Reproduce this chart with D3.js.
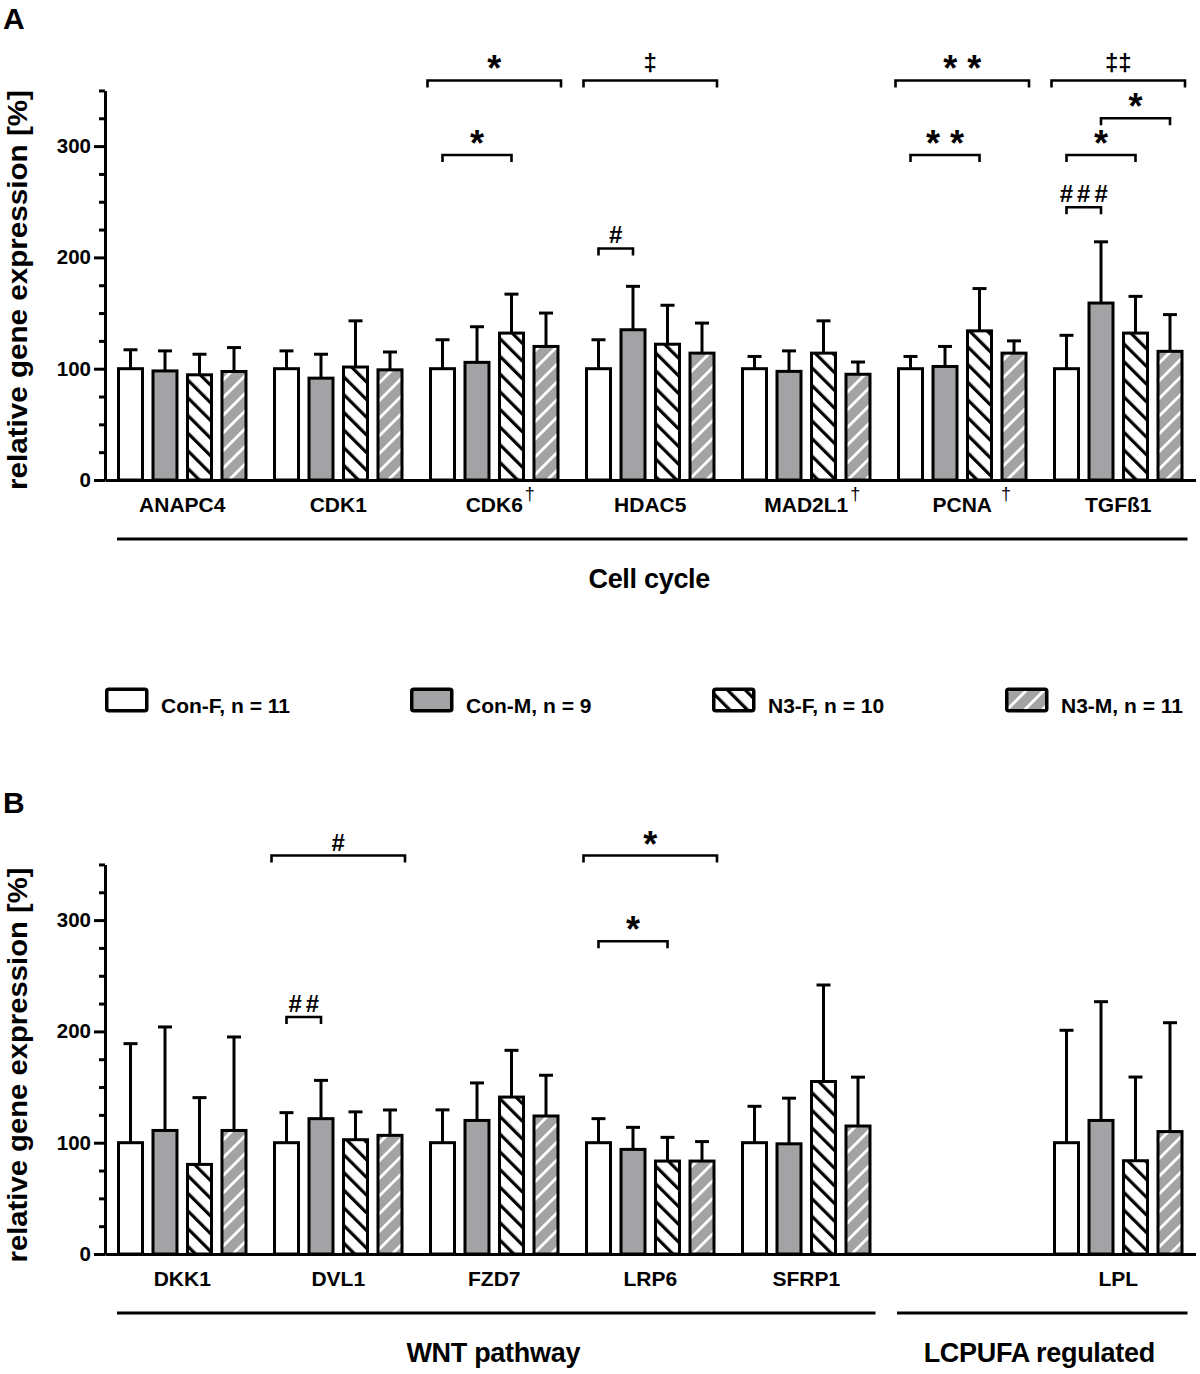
<!DOCTYPE html>
<html>
<head>
<meta charset="utf-8">
<script src="https://cdn.jsdelivr.net/npm/d3@7"></script>
<style>
  html, body { margin: 0; padding: 0; background: #fff; }
  svg { display: block; }
</style>
</head>
<body>
<svg id="chart" width="1200" height="1374"></svg>
<script>
// ---- shared categories ----
const series = ['Con-F', 'Con-M', 'N3-F', 'N3-M'];
const legendLabels = ['Con-F, n = 11', 'Con-M, n = 9', 'N3-F, n = 10', 'N3-M, n = 11'];
const yTicks = [0, 100, 200, 300];
const yMinorTicks = [25, 50, 75, 125, 150, 175, 225, 250, 275, 325, 350];

// ---- panel A: cell cycle ----
const genesA = ['ANAPC4', 'CDK1', 'CDK6', 'HDAC5', 'MAD2L1', 'PCNA', 'TGFß1'];
const marksA = ['', '', '†', '', '†', ' †', ''];
const meanA_ConF = [100, 100, 100, 100, 100, 100, 100];
const meanA_ConM = [98, 91.5, 105.7, 135, 97.6, 102, 159];
const meanA_N3F = [94.5, 101.5, 132, 122, 114, 134, 132];
const meanA_N3M = [97.5, 99, 120, 114, 95, 114, 115.6];
const sdA_ConF = [17, 16, 26, 26, 11, 11, 30];
const sdA_ConM = [18, 21.5, 32, 39, 18.4, 18, 55];
const sdA_N3F = [18.5, 41.5, 35, 35, 29, 38, 33];
const sdA_N3M = [21.5, 16, 30, 27, 11, 11, 33];
const groupsA = [{ label: 'Cell cycle', first: 'ANAPC4', last: 'TGFß1' }];
const sigA = [
  { gene: 'CDK6', a: 'Con-F', b: 'N3-M', full: true, level: 359, label: '*' },
  { gene: 'CDK6', a: 'Con-F', b: 'N3-F', level: 292, label: '*' },
  { gene: 'HDAC5', a: 'Con-F', b: 'N3-M', full: true, level: 359, label: '‡' },
  { gene: 'HDAC5', a: 'Con-F', b: 'Con-M', level: 208, label: '#' },
  { gene: 'PCNA', a: 'Con-F', b: 'N3-M', full: true, level: 359, label: '* *' },
  { gene: 'PCNA', a: 'Con-F', b: 'N3-F', level: 292, label: '* *' },
  { gene: 'TGFß1', a: 'Con-F', b: 'N3-M', full: true, level: 359, label: '‡‡' },
  { gene: 'TGFß1', a: 'Con-M', b: 'N3-M', level: 325, label: '*' },
  { gene: 'TGFß1', a: 'Con-F', b: 'N3-F', level: 292, label: '*' },
  { gene: 'TGFß1', a: 'Con-F', b: 'Con-M', level: 245, label: '###' }
];

// ---- panel B: WNT pathway + LCPUFA regulated (6th slot is empty) ----
const genesB = ['DKK1', 'DVL1', 'FZD7', 'LRP6', 'SFRP1', '', 'LPL'];
const marksB = ['', '', '', '', '', '', ''];
const meanB_ConF = [100, 100, 100, 100, 100, null, 100];
const meanB_ConM = [111, 121.6, 120, 94, 99, null, 120];
const meanB_N3F = [80.5, 102.7, 141, 83.5, 155, null, 83.8];
const meanB_N3M = [111, 106.6, 124, 83.5, 115, null, 110];
const sdB_ConF = [89, 27, 29.5, 21.6, 32.7, null, 101];
const sdB_ConM = [93, 34.4, 33.7, 19.8, 41, null, 106.7];
const sdB_N3F = [60, 25, 42, 21.3, 86.7, null, 75.2];
const sdB_N3M = [84, 22.8, 36.6, 17.5, 43.9, null, 97.8];
const groupsB = [
  { label: 'WNT pathway', first: 'DKK1', last: 'SFRP1' },
  { label: 'LCPUFA regulated', first: '', last: 'LPL' }
];
const sigB = [
  { gene: 'DVL1', a: 'Con-F', b: 'N3-M', full: true, level: 358, label: '#' },
  { gene: 'DVL1', a: 'Con-F', b: 'Con-M', level: 213, label: '##' },
  { gene: 'LRP6', a: 'Con-F', b: 'N3-M', full: true, level: 358, label: '*' },
  { gene: 'LRP6', a: 'Con-F', b: 'N3-F', level: 281, label: '*' }
];

// ---- styling ----
const FONT = '"Liberation Sans", Arial, Helvetica, sans-serif';
const GRAY = '#a3a3a6';

const svg = d3.select('#chart')
    .attr('font-family', FONT)
    .attr('font-weight', 'bold');

svg.append('rect').attr('width', 1200).attr('height', 1374).attr('fill', '#fff');

// Hatch patterns for the N3 groups
const defs = svg.append('defs');
function hatch(id, bg, fg, stripe, angle) {
    const p = defs.append('pattern')
        .attr('id', id)
        .attr('patternUnits', 'userSpaceOnUse')
        .attr('width', 12.5)
        .attr('height', 12.5)
        .attr('patternTransform', `rotate(${angle})`);
    p.append('rect').attr('width', 12.5).attr('height', 12.5).attr('fill', bg);
    p.append('rect').attr('width', stripe).attr('height', 12.5).attr('fill', fg);
}
hatch('hatch-f', '#fff', '#000', 3.2, -45);
hatch('hatch-m', GRAY, '#fff', 2.8, 45);

const fills = {
    'Con-F': '#fff',
    'Con-M': GRAY,
    'N3-F': 'url(#hatch-f)',
    'N3-M': 'url(#hatch-m)'
};

function drawPanel(cfg) {
    const g = svg.append('g');

    const y = d3.scaleLinear()
        .domain([0, 350])
        .range([cfg.base, cfg.base - 350 * 1.113]);

    const x = d3.scaleBand()
        .domain(cfg.genes)
        .range([105, 1195.5])
        .paddingInner(0.1635)
        .paddingOuter(0.0769);

    const xi = d3.scaleBand()
        .domain(series)
        .range([0, x.bandwidth()])
        .paddingInner(0.2174);

    const rows = cfg.genes.flatMap((gene, i) => series.map((s, j) => ({
        gene, s, v: cfg.means[j][i], sd: cfg.sds[j][i]
    }))).filter(d => d.v != null);

    // panel letter
    g.append('text')
        .attr('x', 3)
        .attr('y', cfg.letterY)
        .attr('font-size', 30)
        .text(cfg.letter);

    // y title
    g.append('text')
        .attr('transform', `translate(27,${cfg.titleY}) rotate(-90)`)
        .attr('text-anchor', 'middle')
        .attr('font-size', 27)
        .attr('textLength', cfg.titleLen)
        .attr('lengthAdjust', 'spacingAndGlyphs')
        .text(cfg.yTitle);

    // error bars (behind the bars)
    const eb = g.append('g')
        .attr('stroke', '#000')
        .attr('stroke-width', 3);
    rows.forEach(d => {
        const cx = x(d.gene) + xi(d.s) + xi.bandwidth() / 2;
        eb.append('line')
            .attr('x1', cx).attr('x2', cx)
            .attr('y1', y(d.v)).attr('y2', y(d.v + d.sd));
        eb.append('line')
            .attr('x1', cx - 7).attr('x2', cx + 7)
            .attr('y1', y(d.v + d.sd)).attr('y2', y(d.v + d.sd));
    });

    // bars
    g.append('g')
        .selectAll('rect')
        .data(rows)
        .join('rect')
        .attr('x', d => x(d.gene) + xi(d.s) + 1.5)
        .attr('width', xi.bandwidth() - 3)
        .attr('y', d => y(d.v))
        .attr('height', d => y(0) - y(d.v))
        .attr('fill', d => fills[d.s])
        .attr('stroke', '#000')
        .attr('stroke-width', 3);

    // axes
    g.append('g')
        .attr('transform', `translate(0,${cfg.base})`)
        .call(d3.axisBottom(x).tickSize(0).tickFormat('').tickSizeOuter(0))
        .call(a => a.select('.domain').attr('stroke-width', 3));

    g.append('g')
        .attr('transform', 'translate(105,0)')
        .call(d3.axisLeft(y).tickValues(yMinorTicks).tickSize(6).tickFormat('').tickSizeOuter(0))
        .call(a => a.selectAll('line').attr('stroke-width', 3))
        .call(a => a.select('.domain').attr('stroke-width', 3));

    g.append('g')
        .attr('transform', 'translate(105,0)')
        .call(d3.axisLeft(y).tickValues(yTicks).tickSize(11).tickPadding(3).tickSizeOuter(0))
        .attr('font-family', FONT)
        .attr('font-size', 20.5)
        .attr('font-weight', 'bold')
        .call(a => a.select('.domain').attr('stroke-width', 3))
        .call(a => a.selectAll('.tick line').attr('stroke-width', 3));

    // gene labels + superscript marks
    cfg.genes.forEach((gene, i) => {
        if (!gene) return;
        const cx = x(gene) + x.bandwidth() / 2;
        const t = g.append('text')
            .attr('x', cx)
            .attr('y', cfg.base + 32)
            .attr('text-anchor', 'middle')
            .attr('font-size', 21)
            .text(gene);
        const mark = cfg.marks[i];
        if (mark) {
            const w = t.node().getComputedTextLength();
            g.append('text')
                .attr('x', cx + w / 2 + (mark.startsWith(' ') ? 9 : 2))
                .attr('y', cfg.base + 20)
                .attr('font-size', 18)
                .attr('font-weight', 'normal')
                .text(mark.trim());
        }
    });

    // group lines underneath the gene labels
    cfg.groups.forEach(grp => {
        const x0 = x(grp.first);
        const x1 = x(grp.last) + x.bandwidth() + 4;
        g.append('line')
            .attr('x1', x0).attr('x2', x1)
            .attr('y1', cfg.base + 59).attr('y2', cfg.base + 59)
            .attr('stroke', '#000')
            .attr('stroke-width', 3);
        g.append('text')
            .attr('x', (x0 + x1) / 2 - 3)
            .attr('y', cfg.base + 108)
            .attr('text-anchor', 'middle')
            .attr('font-size', 27)
            .attr('letter-spacing', -0.3)
            .text(grp.label);
    });

    // significance brackets
    const bg = g.append('g');
    cfg.sig.forEach(d => {
        const gx = x(d.gene);
        const x0 = d.full ? gx - 1.5 : gx + xi(d.a) + xi.bandwidth() / 2;
        const x1 = d.full ? gx + x.bandwidth() + 1.5 : gx + xi(d.b) + xi.bandwidth() / 2;
        const ly = y(d.level);
        bg.append('path')
            .attr('d', `M${x0},${ly + 7}V${ly}H${x1}V${ly + 7}`)
            .attr('fill', 'none')
            .attr('stroke', '#000')
            .attr('stroke-width', 2.6);

        const isStar = d.label.includes('*');
        const isHash = d.label.includes('#');
        const ls = isHash ? 4 : 0;
        bg.append('text')
            .attr('x', (x0 + x1) / 2 + ls / 2)
            .attr('y', isStar ? ly + 1 : (isHash ? ly - 5 : ly - 9))
            .attr('text-anchor', 'middle')
            .attr('font-size', isStar ? 36 : 24)
            .attr('letter-spacing', ls)
            .text(d.label);
    });
}

drawPanel({
    base: 480,
    letter: 'A',
    letterY: 29,
    yTitle: 'relative gene expression  [%]',
    titleY: 290,
    titleLen: 400,
    genes: genesA,
    marks: marksA,
    means: [meanA_ConF, meanA_ConM, meanA_N3F, meanA_N3M],
    sds: [sdA_ConF, sdA_ConM, sdA_N3F, sdA_N3M],
    groups: groupsA,
    sig: sigA
});

drawPanel({
    base: 1254,
    letter: 'B',
    letterY: 813,
    yTitle: 'relative gene expression [%]',
    titleY: 1065,
    titleLen: 395,
    genes: genesB,
    marks: marksB,
    means: [meanB_ConF, meanB_ConM, meanB_N3F, meanB_N3M],
    sds: [sdB_ConF, sdB_ConM, sdB_N3F, sdB_N3M],
    groups: groupsB,
    sig: sigB
});

// legend between the panels
const legendX = [105, 410, 712, 1005];
const legend = svg.append('g');
series.forEach((s, i) => {
    legend.append('rect')
        .attr('x', legendX[i] + 1.75)
        .attr('y', 689.25)
        .attr('width', 40)
        .attr('height', 21.5)
        .attr('rx', 2)
        .attr('fill', fills[s])
        .attr('stroke', '#000')
        .attr('stroke-width', 3.5);
    legend.append('text')
        .attr('x', legendX[i] + 56)
        .attr('y', 713)
        .attr('font-size', 21)
        .text(legendLabels[i]);
});
</script>
</body>
</html>
